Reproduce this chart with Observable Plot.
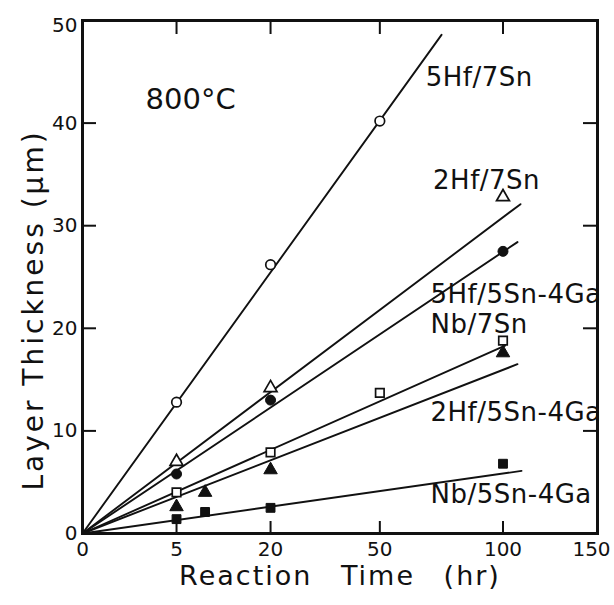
<!DOCTYPE html>
<html>
<head>
<meta charset="utf-8">
<script src="https://cdn.jsdelivr.net/npm/d3@7"></script>
<script src="https://cdn.jsdelivr.net/npm/@observablehq/plot@0.6"></script>
<style>
  body { margin: 0; background: #fff; }
  #chart { width: 614px; height: 605px; }
</style>
</head>
<body>
<div id="chart"></div>
<script>
// ---- tick values ----
const xTickLabels = [0, 5, 20, 50, 100];
const xLastTickLabel = [150];
const xInnerTicks = [5, 20, 50, 100];
const yTickLabels = [0, 10, 20, 30, 40];
const yTopTickLabel = [50];
const yInnerTicks = [10, 20, 30, 40];

// ---- series ----
const seriesNames = ["5Hf/7Sn", "2Hf/7Sn", "5Hf/5Sn-4Ga", "Nb/7Sn", "2Hf/5Sn-4Ga", "Nb/5Sn-4Ga"];
const seriesSymbol = ["circle", "triangle", "circle", "square", "triangle", "square"];
const seriesFilled = [false, false, true, false, true, true];

// measured points (time in hr, thickness in µm)
const time_5Hf7Sn = [5, 20, 50];
const thick_5Hf7Sn = [12.8, 26.2, 40.2];
const time_2Hf7Sn = [5, 20, 100];
const thick_2Hf7Sn = [7.0, 14.2, 32.8];
const time_5Hf5Sn4Ga = [5, 20, 100];
const thick_5Hf5Sn4Ga = [5.8, 13.0, 27.5];
const time_Nb7Sn = [5, 20, 50, 100];
const thick_Nb7Sn = [4.0, 7.9, 13.7, 18.8];
const time_2Hf5Sn4Ga = [5, 8.5, 20, 100];
const thick_2Hf5Sn4Ga = [2.6, 4.0, 6.2, 17.6];
const time_Nb5Sn4Ga = [5, 8.5, 20, 100];
const thick_Nb5Sn4Ga = [1.4, 2.1, 2.5, 6.8];

// fitted lines: from origin to end point
const fitEndTime = [72.9, 108.5, 107, 101, 107, 109];
const fitEndThick = [48.6, 32.1, 28.4, 18.3, 16.5, 6.1];

// label anchors (data units)
const labelTime = [66.6, 69.5, 68.5, 68.5, 68.5, 68.5];
const labelThick = [43.6, 33.6, 22.5, 19.5, 11.0, 3.0];

const tempLabel = "800°C";
const tempTime = 2.25;
const tempThick = 41.4;

const xTitle = "Reaction Time (hr)";
const yTitle = "Layer Thickness (µm)";

// ---- build tables ----
const allTimes = [time_5Hf7Sn, time_2Hf7Sn, time_5Hf5Sn4Ga, time_Nb7Sn, time_2Hf5Sn4Ga, time_Nb5Sn4Ga];
const allThick = [thick_5Hf7Sn, thick_2Hf7Sn, thick_5Hf5Sn4Ga, thick_Nb7Sn, thick_2Hf5Sn4Ga, thick_Nb5Sn4Ga];
const points = [];
seriesNames.forEach((s, i) => {
  allTimes[i].forEach((t, j) => points.push({series: s, t, y: allThick[i][j], symbol: seriesSymbol[i], filled: seriesFilled[i]}));
});
const fitRows = [];
seriesNames.forEach((s, i) => {
  fitRows.push({series: s, t: 0, y: 0});
  fitRows.push({series: s, t: fitEndTime[i], y: fitEndThick[i]});
});
const labels = seriesNames.map((s, i) => ({text: s, t: labelTime[i], y: labelThick[i]}));

const W = 614, H = 605;
const mL = 82, mR = 17, mT = 20, mB = 72;
const fw = W - mL - mR, fh = H - mT - mB;
const ink = "#111";

const plot = Plot.plot({
  width: W, height: H,
  marginLeft: mL, marginRight: mR, marginTop: mT, marginBottom: mB,
  x: {type: "sqrt", domain: [0, 150]},
  y: {type: "linear", domain: [0, 50]},
  style: {fontFamily: "'DejaVu Sans', sans-serif", fontSize: "20px", color: ink, background: "white"},
  marks: [
    Plot.line(fitRows, {x: "t", y: "y", z: "series", stroke: ink, strokeWidth: 1.9}),
    Plot.dot(points.filter(d => d.filled), {x: "t", y: "y", symbol: "symbol", fill: ink, stroke: ink, strokeWidth: 1, r: 5}),
    Plot.dot(points.filter(d => !d.filled), {x: "t", y: "y", symbol: "symbol", fill: "white", stroke: ink, strokeWidth: 1.7, r: 4.8}),
    Plot.tickX(xInnerTicks, {x: d => d, insetTop: fh - 12, stroke: ink, strokeWidth: 2}),
    Plot.tickX(xInnerTicks, {x: d => d, insetBottom: fh - 14, stroke: ink, strokeWidth: 2}),
    Plot.tickY(yInnerTicks, {y: d => d, insetRight: fw - 14, stroke: ink, strokeWidth: 2}),
    Plot.tickY(yInnerTicks, {y: d => d, insetLeft: fw - 14, stroke: ink, strokeWidth: 2}),
    Plot.frame({stroke: ink, strokeWidth: 3}),
    Plot.axisX({ticks: xTickLabels, tickSize: 0, tickPadding: 8, label: null, fontSize: 20, tickFormat: d => String(d)}),
    Plot.axisX({ticks: xLastTickLabel, tickSize: 0, tickPadding: 8, label: null, fontSize: 20, dx: -6, tickFormat: d => String(d)}),
    Plot.axisY({ticks: yTickLabels, tickSize: 0, tickPadding: 5, label: null, fontSize: 20}),
    Plot.axisY({ticks: yTopTickLabel, tickSize: 0, tickPadding: 5, label: null, fontSize: 20, dy: 5}),
    Plot.text(labels, {x: "t", y: "y", text: "text", textAnchor: "start", lineAnchor: "bottom", fontSize: 26, fill: ink}),
    Plot.text([tempLabel], {x: () => tempTime, y: () => tempThick, text: d => d, textAnchor: "start", lineAnchor: "bottom", fontSize: 29, fill: ink}),
    Plot.text([xTitle], {frameAnchor: "bottom", dy: 51, textAnchor: "middle", lineAnchor: "bottom", text: d => d, fontSize: 27, fill: ink}),
    Plot.text([yTitle], {frameAnchor: "left", dx: -40, dy: 33, rotate: -90, textAnchor: "middle", lineAnchor: "bottom", text: d => d, fontSize: 28, fill: ink})
  ]
});

d3.select(plot).selectAll("text").each(function() {
  const t = this.textContent;
  if (t === xTitle) d3.select(this).attr("letter-spacing", "2px").attr("word-spacing", "18px");
  if (t === yTitle) d3.select(this).attr("letter-spacing", "3px");
  if (seriesNames.includes(t)) d3.select(this).attr("letter-spacing", "0.5px");
});

document.getElementById("chart").appendChild(plot);
</script>
</body>
</html>
